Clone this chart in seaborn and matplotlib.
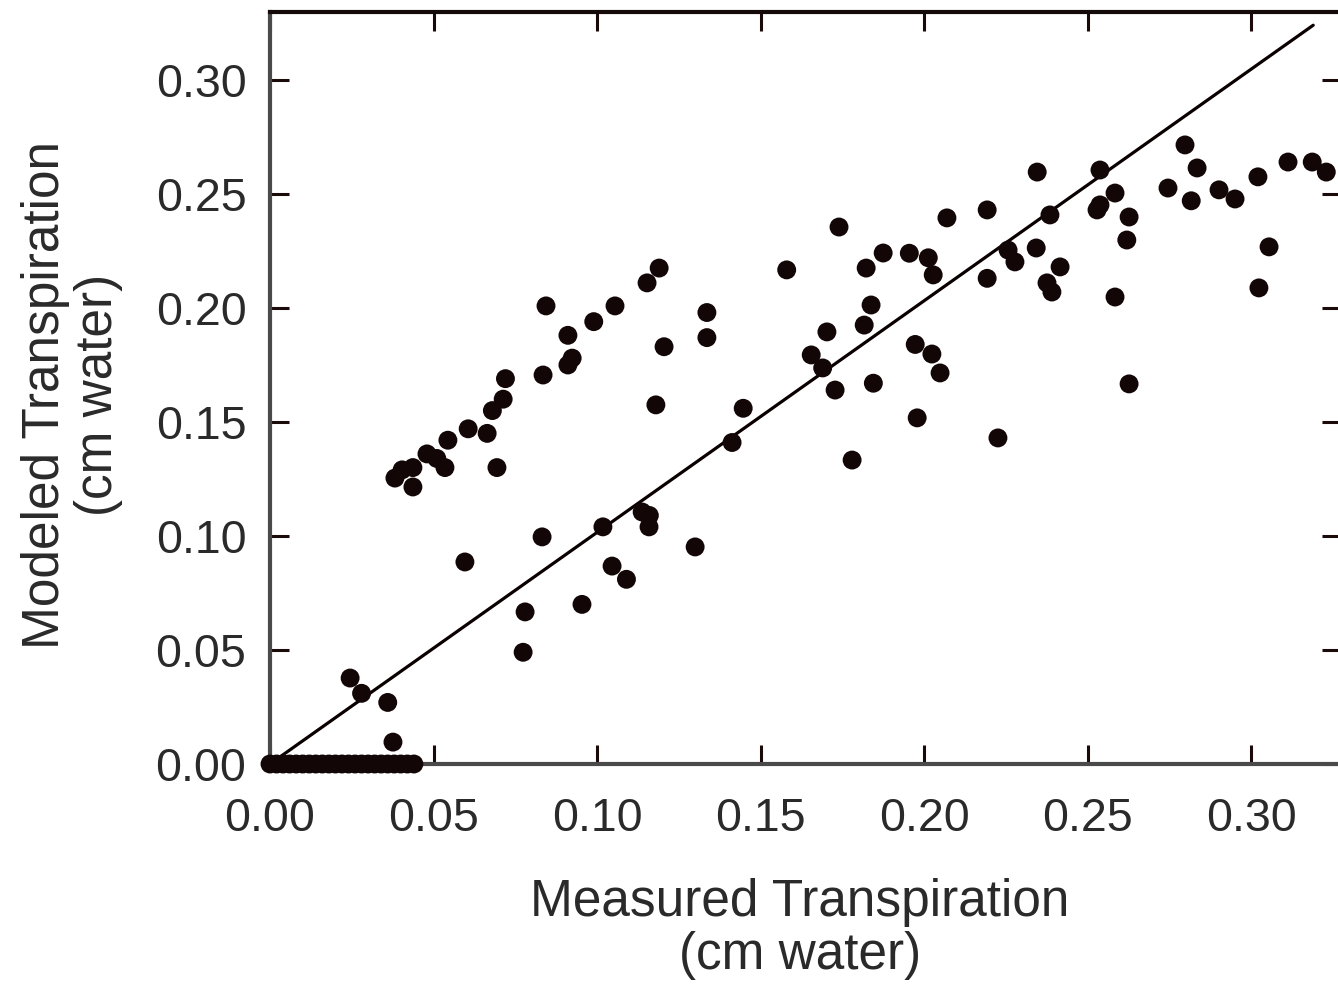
import numpy as np
import pandas as pd
import matplotlib
matplotlib.use("Agg")
import matplotlib.pyplot as plt
import seaborn as sns

# Measured (x) and modeled (y) transpiration, cm water
zero_x = [0.000, 0.002, 0.004, 0.006, 0.008, 0.010, 0.012, 0.014, 0.016, 0.018,
          0.020, 0.022, 0.024, 0.026, 0.028, 0.030, 0.032, 0.034, 0.036, 0.038,
          0.040, 0.042, 0.044]
zero_y = [0.0] * len(zero_x)

measured = [
    0.0245, 0.028, 0.036, 0.0376,
    0.0382, 0.0404, 0.0437, 0.0437, 0.048, 0.0535, 0.0544, 0.051, 0.0606, 0.0664,
    0.068, 0.0713, 0.072, 0.0694, 0.0835, 0.0844, 0.0911, 0.0911, 0.0924, 0.099,
    0.1055, 0.1153, 0.119, 0.1205, 0.118, 0.1336, 0.1336,
    0.0596, 0.0832, 0.078, 0.0774, 0.0954, 0.1018, 0.1046, 0.109, 0.1138, 0.116,
    0.1159, 0.130,
    0.1447, 0.1413, 0.178, 0.158, 0.174, 0.1703, 0.1655, 0.169, 0.1728, 0.1823,
    0.1875, 0.1838, 0.1817, 0.1845, 0.1955, 0.2013, 0.2028, 0.1973, 0.2024, 0.2049,
    0.1979, 0.207, 0.2193, 0.2193, 0.2226, 0.2257, 0.2278,
    0.2346, 0.2538, 0.2798, 0.2835, 0.2584, 0.2538, 0.2529, 0.2385, 0.2343, 0.2416,
    0.2376, 0.2391, 0.2627, 0.262, 0.2584, 0.2627, 0.2746, 0.2817, 0.2902, 0.2951,
    0.3021, 0.3113, 0.3187, 0.323, 0.3055, 0.3024,
]
modeled = [
    0.0377, 0.031, 0.027, 0.0096,
    0.1254, 0.129, 0.1215, 0.130, 0.136, 0.130, 0.142, 0.134, 0.147, 0.145,
    0.155, 0.160, 0.169, 0.130, 0.1706, 0.2009, 0.188, 0.175, 0.178, 0.194,
    0.2009, 0.211, 0.2175, 0.183, 0.1575, 0.198, 0.187,
    0.0886, 0.0996, 0.0667, 0.049, 0.070, 0.104, 0.0868, 0.081, 0.1105, 0.109,
    0.104, 0.0952,
    0.156, 0.141, 0.1333, 0.2167, 0.2355, 0.1895, 0.1794, 0.1737, 0.164, 0.2175,
    0.2241, 0.2013, 0.1925, 0.167, 0.224, 0.222, 0.2145, 0.184, 0.1798, 0.1715,
    0.1518, 0.2395, 0.243, 0.213, 0.143, 0.2254, 0.2202,
    0.2596, 0.2605, 0.2715, 0.2614, 0.2504, 0.2452, 0.243, 0.2408, 0.2263, 0.218,
    0.211, 0.207, 0.2399, 0.2298, 0.2048, 0.1667, 0.2526, 0.247, 0.2518, 0.2478,
    0.2575, 0.264, 0.264, 0.2596, 0.2268, 0.2088,
]

line_x = [0.0, 0.319]
line_y = [0.0, 0.324]

ticks = [0.00, 0.05, 0.10, 0.15, 0.20, 0.25, 0.30]
tick_labels = ["0.00", "0.05", "0.10", "0.15", "0.20", "0.25", "0.30"]

x_title = "Measured Transpiration\n(cm water)"
y_title = "Modeled Transpiration\n(cm water)"

sns.set_style("ticks")
plt.rcParams["font.family"] = ["Liberation Sans", "DejaVu Sans"]

fig = plt.figure(figsize=(13.38, 9.88), dpi=100)
ax = fig.add_axes([270 / 1338, 1 - 764 / 988, (1341 - 270) / 1338, (764 - 12) / 988])

df = pd.DataFrame({"x": zero_x + measured, "y": zero_y + modeled})
dot = "#120606"
sns.scatterplot(data=df, x="x", y="y", ax=ax, color=dot, s=185,
                edgecolor="none", linewidth=0, clip_on=False, zorder=3)
sns.lineplot(x=line_x, y=line_y, ax=ax, color="#0a0000", linewidth=2.3, zorder=2)

ax.set_xlim(0, 0.3275)
ax.set_ylim(0, 0.3298)
ax.set_xticks(ticks)
ax.set_xticklabels(tick_labels)
ax.set_yticks(ticks)
ax.set_yticklabels(tick_labels)

ax.tick_params(axis="both", which="both", direction="in", length=14, width=2.2,
               color="#1a0a0a", labelsize=33.5, labelcolor="#2a2a2a",
               top=True, right=True)
ax.tick_params(axis="y", pad=17)
ax.tick_params(axis="x", pad=24)

for side in ["left", "right", "top", "bottom"]:
    ax.spines[side].set_visible(True)
    ax.spines[side].set_linewidth(3.0)
ax.spines["top"].set_color("#150a0a")
ax.spines["left"].set_color("#4a4a4a")
ax.spines["bottom"].set_color("#4a4a4a")
ax.spines["right"].set_color("#4a4a4a")

ax.set_xlabel(x_title, fontsize=37, color="#2a2a2a", linespacing=1.12)
ax.set_ylabel(y_title, fontsize=37, color="#2a2a2a", linespacing=1.12)
ax.xaxis.set_label_coords((800 - 270) / 1071, (764 - 929) / 752)
ax.yaxis.set_label_coords((72 - 270) / 1071, (764 - 395) / 752)
ax.xaxis.label.set_verticalalignment("center")
ax.yaxis.label.set_verticalalignment("center")

fig.savefig("out.png", dpi=100, facecolor="white")
